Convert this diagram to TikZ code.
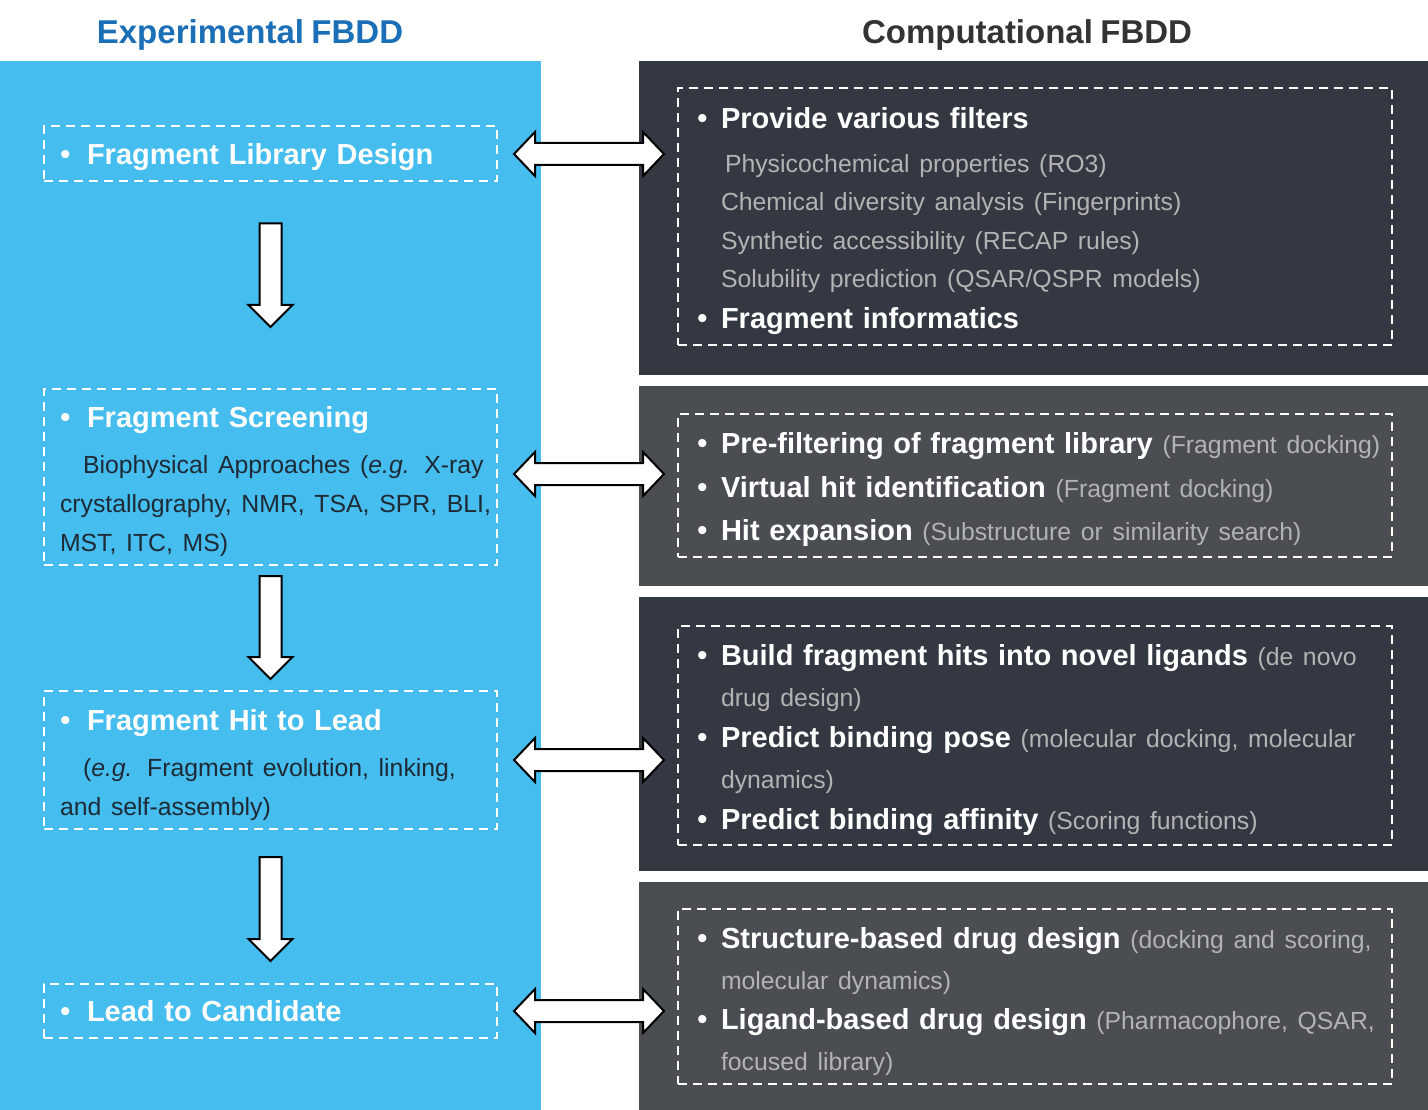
\documentclass[tikz,border=0pt]{standalone}
\usepackage{fontspec}
\setmainfont[WordSpace=0.8]{Liberation Sans}
\usetikzlibrary{calc}

\definecolor{expblue}{HTML}{45BDEF}
\definecolor{titleblue}{HTML}{1B6FB6}
\definecolor{titlegray}{HTML}{333333}
\definecolor{darkpanel}{HTML}{343843}
\definecolor{greypanel}{HTML}{4A4D52}
\definecolor{notegray}{HTML}{B3B3B3}
\definecolor{bodytext}{HTML}{1E2A35}

\newcommand{\oneline}[1]{\mbox{#1}}
\newcommand{\bul}[1][24pt]{\makebox[#1][l]{\fontsize{30}{30}\selectfont\mdseries\textbullet}}
\newcommand{\ind}[1][24pt]{\hspace*{#1}}
\newcommand{\note}[1]{{\fontsize{24.8}{24.8}\selectfont\mdseries\color{notegray}#1}}
\newcommand{\body}[1]{{\fontsize{24.8}{24.8}\selectfont\mdseries\color{bodytext}#1}}

% fat white arrows with black outline
\newcommand{\downfat}[2]{%
  \draw[fatarrow] ($(#1)+(-11,0)$) -- ($(#1)+(11,0)$) -- ($(#2)+(11,-22)$)
    -- ($(#2)+(22,-22)$) -- (#2) -- ($(#2)+(-22,-22)$) -- ($(#2)+(-11,-22)$) -- cycle;}
\newcommand{\bothfat}[2]{%
  \draw[fatarrow] (#1) -- ($(#1)+(21,-22)$) -- ($(#1)+(21,-11)$) -- ($(#2)+(-21,-11)$)
    -- ($(#2)+(-21,-22)$) -- (#2) -- ($(#2)+(-21,22)$) -- ($(#2)+(-21,11)$)
    -- ($(#1)+(21,11)$) -- ($(#1)+(21,22)$) -- cycle;}

\tikzset{
  fatarrow/.style={fill=white, draw=black, line width=2pt, line join=miter},
  dashbox/.style={draw=white, line width=2pt, dash pattern=on 9pt off 6pt,
    align=left, inner ysep=4pt, text=white,
    execute at end node={\par\vspace*{-10pt}},
    font=\fontsize{29}{39}\selectfont\bfseries},
  lbox/.style={dashbox, text width=421pt, inner xsep=16pt},
  rbox/.style={dashbox, text width=676pt, inner xsep=19pt},
  coltitle/.style={font=\fontsize{33}{33}\selectfont\bfseries}
}

\begin{document}
\begin{tikzpicture}[x=1pt, y=-1pt]
  \useasboundingbox (0,0) rectangle (1428,1110);

  % panels
  \fill[expblue] (0,61) rectangle (541,1110);
  \fill[darkpanel] (639,61) rectangle (1428,375);
  \fill[greypanel] (639,386) rectangle (1428,586);
  \fill[darkpanel] (639,597) rectangle (1428,871);
  \fill[greypanel] (639,882) rectangle (1428,1110);

  % titles
  \node[coltitle, text=titleblue] (exptitle) at (250,35) {Experimental FBDD};
  \node[coltitle, text=titlegray] (comptitle) at (1027,35) {Computational FBDD};

  % experimental steps
  \node[lbox, minimum height=55pt] (lib) at (270.5,154) {\oneline{\bul[27pt]Fragment Library Design}};
  \node[lbox, minimum height=176pt] (scr) at (270.5,477) {\oneline{\bul[27pt]Fragment Screening}\\[7pt]
    \oneline{\body{\ind[23pt]Biophysical Approaches (\textit{e.g.} X-ray}}\\
    \oneline{\body{crystallography, NMR, TSA, SPR, BLI,}}\\
    \oneline{\body{MST, ITC, MS)}}};
  \node[lbox, minimum height=138pt] (hit) at (270.5,760) {\oneline{\bul[27pt]Fragment Hit to Lead}\\[7pt]
    \oneline{\body{\ind[23pt](\textit{e.g.} Fragment evolution, linking,}}\\
    \oneline{\body{and self-assembly)}}};
  \node[lbox, minimum height=54pt] (lead) at (270.5,1011) {\oneline{\bul[27pt]Lead to Candidate}};

  % computational counterparts
  \node[rbox, minimum height=257pt, font=\fontsize{29}{38.5}\selectfont\bfseries] (filt) at (1035,216.5) {%
    \oneline{\bul Provide various filters}\\[5pt]
    \oneline{\ind[28pt]\note{Physicochemical properties (RO3)}}\\
    \oneline{\ind\note{Chemical diversity analysis (Fingerprints)}}\\
    \oneline{\ind\note{Synthetic accessibility (RECAP rules)}}\\
    \oneline{\ind\note{Solubility prediction (QSAR/QSPR models)}}\\[2.5pt]
    \oneline{\bul Fragment informatics}};
  \node[rbox, minimum height=143pt, font=\fontsize{29}{43.5}\selectfont\bfseries] (dock) at (1035,485) {%
    \oneline{\bul Pre-filtering of fragment library \note{(Fragment docking)}}\\
    \oneline{\bul Virtual hit identification \note{(Fragment docking)}}\\
    \oneline{\bul Hit expansion \note{(Substructure or similarity search)}}};
  \node[rbox, minimum height=219pt, font=\fontsize{29}{41}\selectfont\bfseries] (grow) at (1035,735.5) {%
    \oneline{\bul Build fragment hits into novel ligands \note{(de novo}}\\
    \oneline{\ind\note{drug design)}}\\
    \oneline{\bul Predict binding pose \note{(molecular docking, molecular}}\\
    \oneline{\ind\note{dynamics)}}\\
    \oneline{\bul Predict binding affinity \note{(Scoring functions)}}};
  \node[rbox, minimum height=175pt, font=\fontsize{29}{40.5}\selectfont\bfseries] (opt) at (1035,996.5) {%
    \oneline{\bul Structure-based drug design \note{(docking and scoring,}}\\
    \oneline{\ind\note{molecular dynamics)}}\\
    \oneline{\bul Ligand-based drug design \note{(Pharmacophore, QSAR,}}\\
    \oneline{\ind\note{focused library)}}};

  % down arrows
  \coordinate (d1a) at ($(lib.south)+(0,41)$);
  \coordinate (d1b) at ($(scr.north)+(0,-61)$);
  \coordinate (d2a) at ($(scr.south)+(0,10)$);
  \coordinate (d2b) at ($(hit.north)+(0,-11)$);
  \coordinate (d3a) at ($(hit.south)+(0,27)$);
  \coordinate (d3b) at ($(lead.north)+(0,-22)$);
  \downfat{d1a}{d1b}
  \downfat{d2a}{d2b}
  \downfat{d3a}{d3b}

  % double arrows
  \coordinate (h1a) at ($(lib.east)+(16,0)$);
  \coordinate (h1b) at ($(lib.east -| filt.west)+(-13,0)$);
  \coordinate (h2a) at ($(scr.east)+(16,-3)$);
  \coordinate (h2b) at ($(scr.east -| dock.west)+(-13,-3)$);
  \coordinate (h3a) at ($(hit.east)+(16,0)$);
  \coordinate (h3b) at ($(hit.east -| grow.west)+(-13,0)$);
  \coordinate (h4a) at ($(lead.east)+(16,0)$);
  \coordinate (h4b) at ($(lead.east -| opt.west)+(-13,0)$);
  \bothfat{h1a}{h1b}
  \bothfat{h2a}{h2b}
  \bothfat{h3a}{h3b}
  \bothfat{h4a}{h4b}
\end{tikzpicture}
\end{document}
